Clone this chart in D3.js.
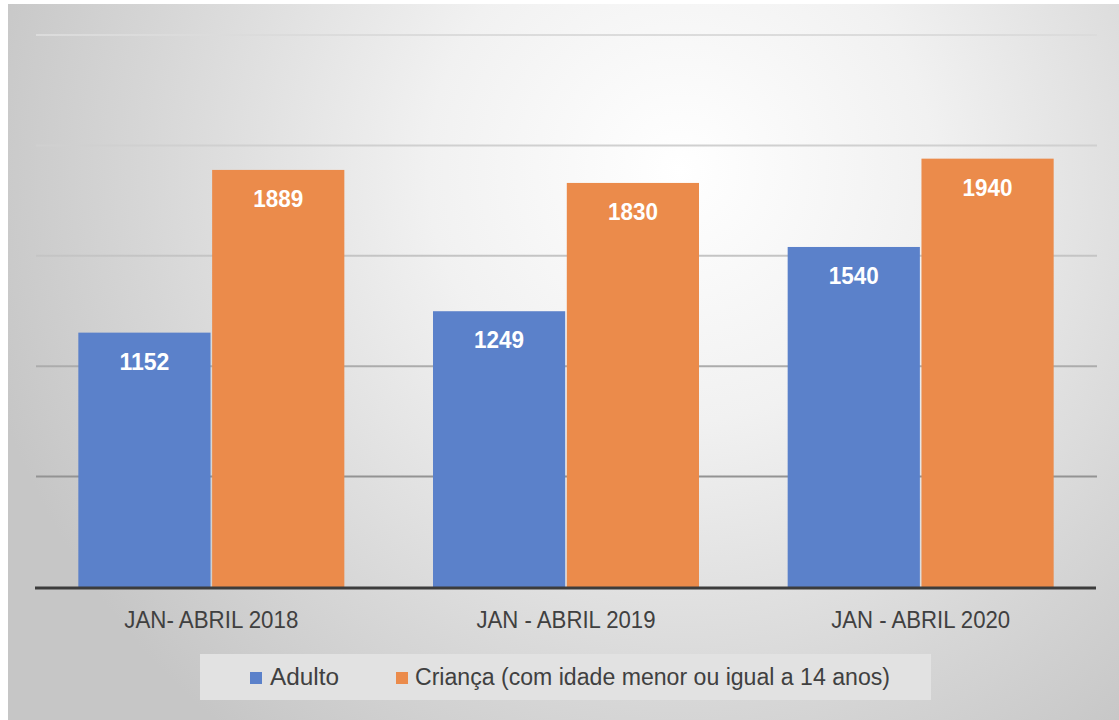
<!DOCTYPE html>
<html><head><meta charset="utf-8">
<script src="https://cdn.jsdelivr.net/npm/d3@7"></script>
<style>
html,body{margin:0;padding:0;background:#fff;}
svg{display:block;}
text{font-family:"Liberation Sans Narrow","Liberation Sans",sans-serif;}
</style></head>
<body>
<script>
const categories = ["JAN- ABRIL 2018", "JAN - ABRIL 2019", "JAN - ABRIL 2020"];
const seriesNames = ["Adulto", "Criança (com idade menor ou igual a 14 anos)"];
const adulto = [1152, 1249, 1540];
const crianca = [1889, 1830, 1940];
const yTicks = [0, 500, 1000, 1500, 2000, 2500];
const colors = ["#5b81ca", "#eb8b4b"];

const W = 1119, H = 720;
const svg = d3.select("body").append("svg").attr("width", W).attr("height", H);
const defs = svg.append("defs");
const rg = defs.append("radialGradient").attr("id","bg")
  .attr("gradientUnits","userSpaceOnUse").attr("cx",680).attr("cy",170).attr("r",720);
rg.append("stop").attr("offset","0").attr("stop-color","#ffffff");
rg.append("stop").attr("offset","0.35").attr("stop-color","#f1f1f1");
rg.append("stop").attr("offset","0.75").attr("stop-color","#d6d6d6");
rg.append("stop").attr("offset","1").attr("stop-color","#c6c6c6");
const gg = defs.append("linearGradient").attr("id","grid")
  .attr("gradientUnits","userSpaceOnUse").attr("x1",0).attr("y1",30).attr("x2",0).attr("y2",490);
gg.append("stop").attr("offset","0").attr("stop-color","#dcdcdc");
gg.append("stop").attr("offset","0.5").attr("stop-color","#c4c4c4");
gg.append("stop").attr("offset","1").attr("stop-color","#909090");

svg.append("rect").attr("x",8).attr("y",4).attr("width",W-8).attr("height",H-4).attr("fill","url(#bg)");

const x0 = d3.scaleBand().domain(categories).range([34,1098]).paddingInner(0.25).paddingOuter(0.125);
const x1 = d3.scaleBand().domain([0,1]).range([0, x0.bandwidth()]).paddingInner(0.012);
const y = d3.scaleLinear().domain([0,2500]).range([587,35]);

// gridlines
svg.append("g").selectAll("line").data(yTicks.filter(d=>d>0)).join("line")
  .attr("x1",36).attr("x2",1097).attr("y1",d=>y(d)).attr("y2",d=>y(d))
  .attr("stroke","url(#grid)").attr("stroke-width",2);

const data = categories.map((c,i)=>({cat:c, vals:[adulto[i], crianca[i]]}));
const groups = svg.append("g").selectAll("g").data(data).join("g")
  .attr("transform", d=>`translate(${x0(d.cat)},0)`);
groups.selectAll("rect").data(d=>d.vals.map((v,k)=>({v,k}))).join("rect")
  .attr("x",d=>x1(d.k)).attr("width",x1.bandwidth())
  .attr("y",d=>y(d.v)).attr("height",d=>y(0)-y(d.v))
  .attr("fill",d=>colors[d.k]);
groups.selectAll("text").data(d=>d.vals.map((v,k)=>({v,k}))).join("text")
  .attr("x",d=>x1(d.k)+x1.bandwidth()/2).attr("y",d=>y(d.v)+37)
  .attr("text-anchor","middle").attr("fill","#fff").attr("font-size",24).attr("font-weight","bold")
  .attr("textLength",50).attr("lengthAdjust","spacingAndGlyphs")
  .text(d=>d.v);

// baseline
svg.append("line").attr("x1",35).attr("x2",1096).attr("y1",y(0)+1).attr("y2",y(0)+1)
  .attr("stroke","#3c3c3c").attr("stroke-width",3);

// x axis labels
const xAxis = d3.axisBottom(x0).tickSize(0).tickPadding(0);
const ax = svg.append("g").attr("transform",`translate(0,${y(0)})`).call(xAxis);
ax.select(".domain").remove();
ax.selectAll("text").attr("dy",null).attr("y",41).attr("font-size",23).attr("fill","#404040")
  .attr("font-family","Liberation Sans Narrow, sans-serif")
  .attr("textLength",(d,i)=>[174,179,179][i]).attr("lengthAdjust","spacingAndGlyphs");

// legend
const lg = svg.append("g");
lg.append("rect").attr("x",200).attr("y",654).attr("width",731).attr("height",46).attr("fill","#e2e2e2");
const legendItems = [{x:250, tx:270, w:69},{x:396, tx:415, w:475}];
legendItems.forEach((it,i)=>{
  lg.append("rect").attr("x",it.x).attr("y",672).attr("width",12).attr("height",12).attr("fill",colors[i]);
  lg.append("text").attr("x",it.tx).attr("y",685).attr("font-size",23).attr("fill","#404040")
    .attr("textLength",it.w).attr("lengthAdjust","spacingAndGlyphs").text(seriesNames[i]);
});
</script>
</body></html>
